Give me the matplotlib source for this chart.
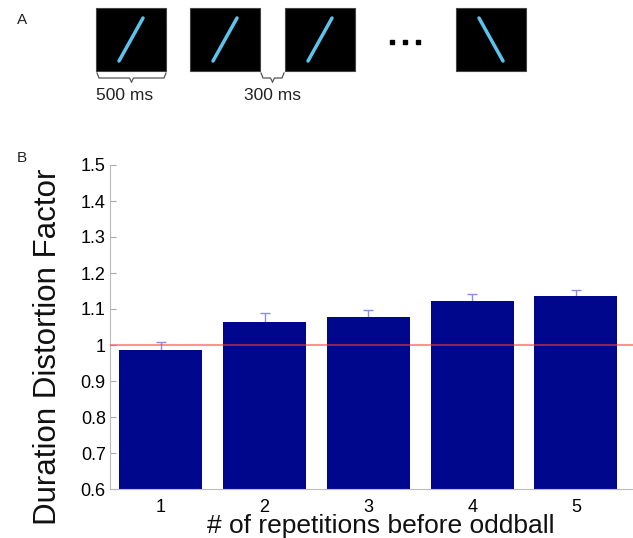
import matplotlib.pyplot as plt
from matplotlib.patches import Rectangle

plt.rcParams['font.family'] = ['Liberation Sans', 'DejaVu Sans']

# panel B data
repetitions = [1, 2, 3, 4, 5]
distortion = [0.986, 1.064, 1.077, 1.122, 1.136]
sem = [0.023, 0.024, 0.020, 0.021, 0.018]
yticks = [0.6, 0.7, 0.8, 0.9, 1, 1.1, 1.2, 1.3, 1.4, 1.5]
ytick_labels = ['0.6', '0.7', '0.8', '0.9', '1', '1.1', '1.2', '1.3', '1.4', '1.5']

# panel A stimulus sequence: square left edge (px), line orientation
stim_left = [96, 190, 285, 456]
stim_slant = [1, 1, 1, -1]

fig = plt.figure(figsize=(6.33, 5.38), dpi=100)

# ---- panel A, drawn in pixel units
axA = fig.add_axes([0, 1 - 120 / 538, 1, 120 / 538])
axA.set_xlim(0, 633)
axA.set_ylim(120, 0)
axA.axis('off')
for x0, s in zip(stim_left, stim_slant):
    axA.add_patch(Rectangle((x0, 8), 70, 63, facecolor='black', edgecolor='#444444', lw=0.8))
    cx = x0 + 35
    axA.plot([cx - 12 * s, cx + 12 * s], [61, 18], color='#5bc4ec', lw=2.5,
             solid_capstyle='round')
axA.plot([392, 405, 418], [42, 42, 42], 's', color='black', ms=3.5)


def brace(ax, x0, x1, y, h=5):
    xm = (x0 + x1) / 2
    ax.plot([x0, x0 + 2, xm - 2, xm], [y, y + h, y + h, y + h * 1.8], color='#555555', lw=0.9)
    ax.plot([x1, x1 - 2, xm + 2, xm], [y, y + h, y + h, y + h * 1.8], color='#555555', lw=0.9)


brace(axA, 97, 166, 73)
brace(axA, 261, 284, 73)
axA.text(96, 96, '500 ms', fontsize=12.5, va='center', ha='left', color='#222222')
axA.text(244, 96, '300 ms', fontsize=12.5, va='center', ha='left', color='#222222')
fig.text(22 / 633, 1 - 20 / 538, 'A', fontsize=11, va='center', ha='center', color='#222222')
fig.text(22 / 633, 1 - 158 / 538, 'B', fontsize=11, va='center', ha='center', color='#222222')

# ---- panel B
ax = fig.add_axes([110 / 633, 1 - 489 / 538, 523 / 633, 324 / 538])
ax.bar(repetitions, distortion, width=0.8, color='#00078c', zorder=2)
ax.errorbar(repetitions, distortion, yerr=sem, fmt='none',
            ecolor='#8c8cf0', elinewidth=1, capsize=3.5, capthick=1, zorder=1)
ax.axhline(1, color='#ff3b30', alpha=0.55, lw=1.5, zorder=4)
ax.set_xlim(0.51, 5.55)
ax.set_ylim(0.6, 1.5)
ax.set_yticks(yticks)
ax.set_yticklabels(ytick_labels)
ax.set_xticks(repetitions)
ax.tick_params(axis='y', direction='in', length=4, color='#aaaaaa', labelsize=13, pad=3)
ax.tick_params(axis='x', length=0, labelsize=13, pad=7)
for sp in ['top', 'right']:
    ax.spines[sp].set_visible(False)
for sp in ['left', 'bottom']:
    ax.spines[sp].set_color('#bbbbbb')

fig.text(48 / 633, 1 - 347 / 538, 'Duration Distortion Factor', fontsize=22.5,
         rotation=90, ha='center', va='center', color='#111111')
fig.text(381 / 633, 1 - 533 / 538, '# of repetitions before oddball', fontsize=19,
         ha='center', va='baseline', color='#111111')

fig.savefig('out.png', dpi=100)
